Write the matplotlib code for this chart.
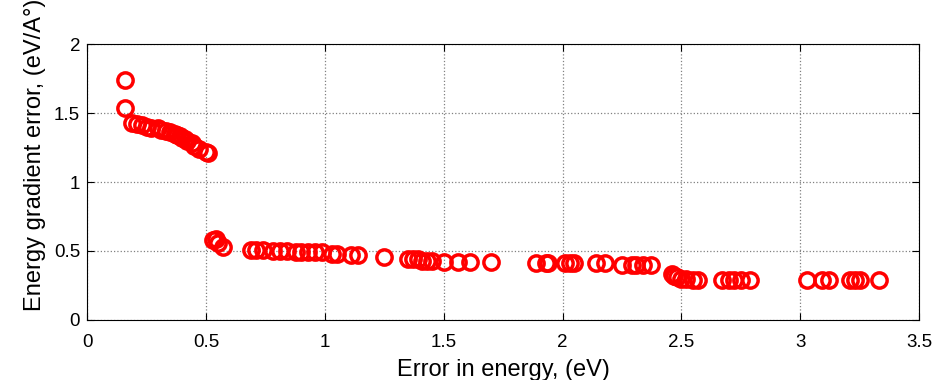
import matplotlib
matplotlib.use("Agg")
from matplotlib import pyplot as plt

plt.rcParams['font.family'] = ['Liberation Sans', 'DejaVu Sans']

# error in energy (eV)
energy_err = [0.16, 0.16, 0.19, 0.21, 0.23, 0.25, 0.27, 0.30, 0.31, 0.33, 0.35,
              0.37, 0.38, 0.39, 0.40, 0.41, 0.42, 0.44, 0.45, 0.47, 0.50, 0.51,
              0.53, 0.54, 0.55, 0.57,
              0.69, 0.71, 0.74, 0.78, 0.81, 0.84, 0.88, 0.90, 0.93, 0.96, 0.99,
              1.03, 1.05, 1.11, 1.14, 1.25, 1.35, 1.37, 1.39, 1.41, 1.43, 1.45,
              1.50, 1.56, 1.61, 1.70, 1.89, 1.93, 1.94, 2.01, 2.03, 2.05, 2.14,
              2.18, 2.25, 2.29, 2.31, 2.34, 2.37,
              2.46, 2.47, 2.48, 2.50, 2.52, 2.55, 2.57, 2.67, 2.70, 2.72, 2.75,
              2.79, 3.03, 3.09, 3.12, 3.21, 3.23, 3.25, 3.33]
# energy gradient error (eV/A)
grad_err = [1.74, 1.54, 1.43, 1.42, 1.41, 1.40, 1.39, 1.39, 1.38, 1.37, 1.36,
            1.35, 1.34, 1.33, 1.32, 1.31, 1.30, 1.28, 1.26, 1.24, 1.22, 1.21,
            0.58, 0.59, 0.56, 0.53,
            0.51, 0.51, 0.51, 0.50, 0.50, 0.50, 0.49, 0.49, 0.49, 0.49, 0.49,
            0.48, 0.48, 0.47, 0.47, 0.46, 0.44, 0.44, 0.44, 0.43, 0.43, 0.43,
            0.42, 0.42, 0.42, 0.42, 0.41, 0.41, 0.41, 0.41, 0.41, 0.41, 0.41,
            0.41, 0.40, 0.40, 0.40, 0.40, 0.40,
            0.33, 0.32, 0.31, 0.30, 0.30, 0.29, 0.29, 0.29, 0.29, 0.29, 0.29,
            0.29, 0.29, 0.29, 0.29, 0.29, 0.29, 0.29, 0.29]

fig = plt.figure(figsize=(9.37, 3.8), dpi=100)
ax = fig.add_axes([0.093, 0.158, 0.888, 0.726])

ax.plot(energy_err, grad_err, 'o', mfc='none', mec='red', ms=11, mew=2.5)

ax.set_xlim(0, 3.5)
ax.set_ylim(0, 2)
ax.set_xticks([0, 0.5, 1, 1.5, 2, 2.5, 3, 3.5])
ax.set_xticklabels(['0', '0.5', '1', '1.5', '2', '2.5', '3', '3.5'])
ax.set_yticks([0, 0.5, 1, 1.5, 2])
ax.set_yticklabels(['0', '0.5', '1', '1.5', '2'])
ax.grid(True, linestyle=':', color='gray', linewidth=0.9)
ax.tick_params(direction='in', top=True, right=True, labelsize=13.5, length=5)
ax.tick_params(axis='x', pad=10)
ax.tick_params(axis='y', pad=5)
ax.set_xlabel('Error in energy, (eV)', fontsize=17, labelpad=6)
ax.set_ylabel('Energy gradient error, (eV/A\u00b0)', fontsize=17)
ax.yaxis.set_label_coords(-0.05, 0.6)

fig.savefig('out.png', dpi=100)
